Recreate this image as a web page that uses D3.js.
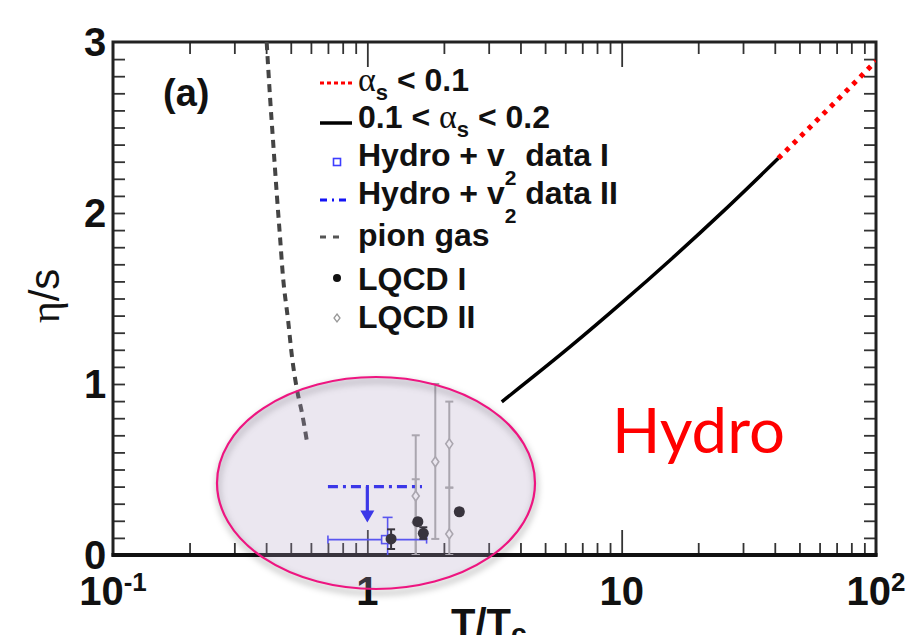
<!DOCTYPE html>
<html>
<head>
<meta charset="utf-8">
<script src="https://cdn.jsdelivr.net/npm/d3@7"></script>
<style>
  html, body { margin: 0; padding: 0; background: #fff; }
  svg { display: block; }
</style>
</head>
<body>
<script>
// ---- data: shear viscosity to entropy ratio vs. T/Tc ----
const xDomain = [0.1, 100];
const yDomain = [0, 3];
const xMajorTicks = [0.1, 1, 10, 100];
const xTickBase = ["10", "1", "10", "10"];
const xTickExp = ["-1", "", "", "2"];
const yMajorTicks = [0, 1, 2, 3];
const yTickLabels = ["0", "1", "2", "3"];

// pion gas (dashed)
const pionT   = [0.402, 0.4144, 0.4257, 0.4414, 0.4536, 0.4661, 0.4879, 0.5057, 0.5292, 0.5536, 0.5793];
const pionEta = [3.0, 2.678, 2.427, 2.094, 1.860, 1.626, 1.374, 1.158, 0.965, 0.830, 0.661];

// pQCD, 0.1 < alpha_s < 0.2 (solid)
const qcdMidT   = [3.378, 6.31, 10.0, 15.85, 25.12, 41.3];
const qcdMidEta = [0.896, 1.221, 1.474, 1.737, 2.011, 2.320];

// pQCD, alpha_s < 0.1 (dotted)
const qcdLowT   = [41.3, 56.23, 74.99, 100];
const qcdLowEta = [2.320, 2.516, 2.701, 2.889];

// Hydro + v2 data I (point with x/y errors)
const hydroIT = [1.18];
const hydroIEta = [0.09];
const hydroITLo = [0.70], hydroITHi = [1.71];
const hydroIEtaLo = [0.0], hydroIEtaHi = [0.22];

// Hydro + v2 data II (upper bound band with arrow)
const hydroIITRange = [0.70, 1.64];
const hydroIIEta = 0.40;
const hydroIIArrowT = 1.0;
const hydroIIArrowTo = 0.19;

// LQCD I
const lqcdIT   = [1.24, 1.58, 1.66, 2.30];
const lqcdIEta = [0.094, 0.195, 0.127, 0.253];
const lqcdILo  = [0.035, 0.178, 0.094, 0.236];
const lqcdIHi  = [0.150, 0.212, 0.162, 0.270];

// LQCD II
const lqcdIIT   = [1.55, 1.55, 1.85, 2.10, 2.10];
const lqcdIIEta = [0.345, 0.19, 0.545, 0.65, 0.123];
const lqcdIILo  = [0.0, 0.0, 0.094, 0.394, 0.0];
const lqcdIIHi  = [0.70, 0.443, 1.0, 0.897, 0.394];

// legend entries
const legendLabels = ["as<0.1", "0.1<as<0.2", "hydroI", "hydroII", "pion gas", "LQCD I", "LQCD II"];

// ---- layout ----
const W = 906, H = 635;
const svg = d3.select("body").append("svg").attr("width", W).attr("height", H);
svg.append("rect").attr("width", W).attr("height", H).attr("fill", "#fff");

const x = d3.scaleLog().domain(xDomain).range([113, 876]);
const y = d3.scaleLinear().domain(yDomain).range([555, 42]);

const SANS = "'Liberation Sans', Arial, Helvetica, sans-serif";
const SERIF = "'Liberation Serif', 'Times New Roman', serif";

const defs = svg.append("defs");
defs.append("clipPath").attr("id", "plotClip")
  .append("rect")
  .attr("x", x(xDomain[0])).attr("y", y(yDomain[1]))
  .attr("width", x(xDomain[1]) - x(xDomain[0]))
  .attr("height", y(yDomain[0]) - y(yDomain[1]));
defs.append("filter").attr("id", "soft").attr("x", "-20%").attr("y", "-20%").attr("width", "140%").attr("height", "140%")
  .append("feGaussianBlur").attr("stdDeviation", 3);

// ---- ticks (all pointing inward) ----
const xMinor = [];
[0.1, 1, 10].forEach(d => { for (let k = 2; k <= 9; k++) xMinor.push(+(d * k).toPrecision(3)); });
const yMinor = d3.range(1, 30).map(i => i / 10).filter(v => Math.abs(v - Math.round(v)) > 1e-6);

function tickAxis(axisFn, scale, values, size, tx, ty) {
  svg.append("g").attr("transform", `translate(${tx},${ty})`)
    .call(axisFn(scale).tickValues(values).tickSize(size).tickFormat(""))
    .call(g => g.select(".domain").remove())
    .call(g => g.selectAll("line").attr("stroke", "#333").attr("stroke-width", 1.8));
}
const x0 = x(xDomain[0]), x1 = x(xDomain[1]), y0 = y(yDomain[0]), y1 = y(yDomain[1]);
tickAxis(d3.axisBottom, x, xMinor, -12, 0, y0);
tickAxis(d3.axisBottom, x, [1, 10], -25, 0, y0);
tickAxis(d3.axisTop, x, xMinor, -12, 0, y1);
tickAxis(d3.axisTop, x, [1, 10], -25, 0, y1);
tickAxis(d3.axisLeft, y, yMinor.concat([1, 2]), -12, x0, 0);
tickAxis(d3.axisRight, y, yMinor.concat([1, 2]), -12, x1, 0);

// frame
svg.append("rect").attr("x", x0).attr("y", y1).attr("width", x1 - x0).attr("height", y0 - y1)
  .attr("fill", "none").attr("stroke", "#222").attr("stroke-width", 3);
svg.append("line").attr("x1", x0 - 1.5).attr("x2", x1 + 1.5).attr("y1", y0).attr("y2", y0)
  .attr("stroke", "#111").attr("stroke-width", 4);

// tick labels
const yLab = svg.append("g").attr("font-family", SANS).attr("font-weight", "bold").attr("font-size", 40).attr("fill", "#111");
yMajorTicks.forEach((v, i) => {
  yLab.append("text").attr("x", 95).attr("y", y(v) + 14).attr("text-anchor", "middle").text(yTickLabels[i]);
});
const xLab = svg.append("g").attr("font-family", SANS).attr("font-weight", "bold").attr("font-size", 40).attr("fill", "#111");
xMajorTicks.forEach((v, i) => {
  const t = xLab.append("text").attr("x", x(v)).attr("y", 605).attr("text-anchor", "middle");
  t.append("tspan").text(xTickBase[i]);
  if (xTickExp[i]) t.append("tspan").attr("font-size", 26).attr("dy", -14).text(xTickExp[i]);
});

// axis titles
const xt = svg.append("text").attr("x", 451).attr("y", 637).attr("font-family", SANS)
  .attr("font-weight", "bold").attr("font-size", 40).attr("fill", "#111");
xt.append("tspan").text("T/T");
xt.append("tspan").attr("font-size", 28).attr("dy", 6).text("c");

const yt = svg.append("text").attr("transform", "translate(59,296) rotate(-90)")
  .attr("text-anchor", "middle").attr("font-size", 42).attr("fill", "#111");
yt.append("tspan").attr("font-family", SERIF).text("η");
yt.append("tspan").attr("font-family", SANS).text("/s");

// panel label
svg.append("text").attr("x", 163).attr("y", 106).attr("font-family", SANS).attr("font-weight", "bold")
  .attr("font-size", 38).attr("fill", "#111").text("(a)");

// ---- curves ----
const plot = svg.append("g").attr("clip-path", "url(#plotClip)");
const lineGen = d3.line().x(d => x(d[0])).y(d => y(d[1])).curve(d3.curveMonotoneX);

plot.append("path").datum(d3.zip(pionT, pionEta)).attr("d", lineGen)
  .attr("fill", "none").attr("stroke", "#444").attr("stroke-width", 4).attr("stroke-dasharray", "8,6");
plot.append("path").datum(d3.zip(qcdMidT, qcdMidEta)).attr("d", lineGen)
  .attr("fill", "none").attr("stroke", "#000").attr("stroke-width", 3.5);
plot.append("path").datum(d3.zip(qcdLowT, qcdLowEta)).attr("d", lineGen)
  .attr("fill", "none").attr("stroke", "#ff0000").attr("stroke-width", 5).attr("stroke-dasharray", "4.5,6");

// ---- LQCD II (gray open diamonds) ----
const gray = "#a8a8a8";
const lq2 = plot.append("g");
lqcdIIT.forEach((t, i) => {
  const cx = x(t);
  lq2.append("line").attr("x1", cx).attr("x2", cx).attr("y1", y(lqcdIILo[i])).attr("y2", y(lqcdIIHi[i]))
    .attr("stroke", gray).attr("stroke-width", 2);
  [lqcdIILo[i], lqcdIIHi[i]].forEach(v => {
    lq2.append("line").attr("x1", cx - 4).attr("x2", cx + 4).attr("y1", y(v)).attr("y2", y(v))
      .attr("stroke", gray).attr("stroke-width", 2);
  });
});
lqcdIIT.forEach((t, i) => {
  const cx = x(t), cy = y(lqcdIIEta[i]);
  lq2.append("path").attr("d", `M${cx},${cy - 5}L${cx + 3.5},${cy}L${cx},${cy + 5}L${cx - 3.5},${cy}Z`)
    .attr("fill", "#fff").attr("stroke", gray).attr("stroke-width", 1.6);
});

// ---- Hydro + v2 data II: band with arrow ----
const blue = "#1414f5";
plot.append("line").attr("x1", x(hydroIITRange[0])).attr("x2", x(hydroIITRange[1]))
  .attr("y1", y(hydroIIEta)).attr("y2", y(hydroIIEta))
  .attr("stroke", blue).attr("stroke-width", 3.2).attr("stroke-dasharray", "10,5,3,5");
{
  const ax = x(hydroIIArrowT), tip = y(hydroIIArrowTo);
  plot.append("line").attr("x1", ax).attr("x2", ax).attr("y1", y(hydroIIEta)).attr("y2", tip - 10)
    .attr("stroke", blue).attr("stroke-width", 3.2);
  plot.append("path").attr("d", `M${ax - 7},${tip - 12}L${ax + 7},${tip - 12}L${ax},${tip}Z`).attr("fill", blue);
}

// ---- Hydro + v2 data I: open square with errors ----
const hb = "#3d3dff";
hydroIT.forEach((t, i) => {
  const cx = x(t), cy = y(hydroIEta[i]);
  const g = plot.append("g").attr("stroke", hb).attr("stroke-width", 1.6).attr("fill", "none");
  g.append("line").attr("x1", x(hydroITLo[i])).attr("x2", x(hydroITHi[i])).attr("y1", cy).attr("y2", cy);
  [hydroITLo[i], hydroITHi[i]].forEach(v => g.append("line").attr("x1", x(v)).attr("x2", x(v)).attr("y1", cy - 4).attr("y2", cy + 4));
  g.append("line").attr("x1", cx + 2).attr("x2", cx + 2).attr("y1", y(hydroIEtaLo[i])).attr("y2", y(hydroIEtaHi[i]));
  g.append("line").attr("x1", cx - 3).attr("x2", cx + 7).attr("y1", y(hydroIEtaHi[i])).attr("y2", y(hydroIEtaHi[i]));
  g.append("rect").attr("x", cx - 4).attr("y", cy - 4).attr("width", 8).attr("height", 8).attr("fill", "#fff");
});

// ---- LQCD I (black dots) ----
const lq1 = plot.append("g");
lqcdIT.forEach((t, i) => {
  const cx = x(t);
  lq1.append("line").attr("x1", cx).attr("x2", cx).attr("y1", y(lqcdILo[i])).attr("y2", y(lqcdIHi[i]))
    .attr("stroke", "#111").attr("stroke-width", 2);
  [lqcdILo[i], lqcdIHi[i]].forEach(v => lq1.append("line").attr("x1", cx - 4).attr("x2", cx + 4)
    .attr("y1", y(v)).attr("y2", y(v)).attr("stroke", "#111").attr("stroke-width", 2));
  lq1.append("circle").attr("cx", cx).attr("cy", y(lqcdIEta[i])).attr("r", 5.5).attr("fill", "#111");
});

// ---- legend ----
const legX = 358;
const legY = [91, 128, 166, 204, 246, 290, 328];
const leg = svg.append("g").attr("font-family", SANS).attr("font-weight", "bold").attr("font-size", 32).attr("fill", "#111");

// symbols
leg.append("line").attr("x1", 320).attr("x2", 352).attr("y1", legY[0] - 8).attr("y2", legY[0] - 8)
  .attr("stroke", "#ff0000").attr("stroke-width", 3).attr("stroke-dasharray", "4,3");
leg.append("line").attr("x1", 320).attr("x2", 352).attr("y1", legY[1] - 5).attr("y2", legY[1] - 5)
  .attr("stroke", "#000").attr("stroke-width", 3.5);
leg.append("rect").attr("x", 333.5).attr("y", legY[2] - 7.5).attr("width", 7).attr("height", 7)
  .attr("fill", "none").attr("stroke", hb).attr("stroke-width", 1.6);
leg.append("line").attr("x1", 320).attr("x2", 350).attr("y1", legY[3] - 4).attr("y2", legY[3] - 4)
  .attr("stroke", blue).attr("stroke-width", 3).attr("stroke-dasharray", "7,5,2,5");
leg.append("line").attr("x1", 320).attr("x2", 346).attr("y1", legY[4] - 9).attr("y2", legY[4] - 9)
  .attr("stroke", "#555").attr("stroke-width", 3).attr("stroke-dasharray", "6,7");
leg.append("circle").attr("cx", 337).attr("cy", legY[5] - 12).attr("r", 4).attr("fill", "#111");
leg.append("path").attr("d", `M337,${legY[6] - 14}L340,${legY[6] - 10}L337,${legY[6] - 6}L334,${legY[6] - 10}Z`)
  .attr("fill", "none").attr("stroke", "#999").attr("stroke-width", 1.3);

// labels
function alpha(t) {
  t.append("tspan").attr("font-family", SERIF).attr("font-weight", "normal").attr("font-size", 34).text("α");
  t.append("tspan").attr("font-size", 22).attr("dy", 9).text("s");
}
{
  const t = leg.append("text").attr("x", legX).attr("y", legY[0]);
  alpha(t);
  t.append("tspan").attr("dy", -9).text(" < 0.1");
}
{
  const t = leg.append("text").attr("x", legX).attr("y", legY[1]);
  t.append("tspan").text("0.1 < ");
  alpha(t);
  t.append("tspan").attr("dy", -9).text(" < 0.2");
}
[["Hydro + v", " data I"], ["Hydro + v", " data II"]].forEach((p, k) => {
  const t = leg.append("text").attr("x", legX).attr("y", legY[2 + k]);
  t.append("tspan").text(p[0]);
  t.append("tspan").attr("font-size", 21).attr("dy", 19).text("2");
  t.append("tspan").attr("dy", -19).text(p[1]);
});
leg.append("text").attr("x", legX).attr("y", legY[4]).text(legendLabels[4]);
leg.append("text").attr("x", legX).attr("y", legY[5]).text(legendLabels[5]);
leg.append("text").attr("x", legX).attr("y", legY[6]).text(legendLabels[6]);

// ---- highlight ellipse over the hydro region ----
const ell = { cx: 376, cy: 483, rx: 159, ry: 106 };
svg.append("ellipse").attr("cx", ell.cx + 1).attr("cy", ell.cy + 4).attr("rx", ell.rx).attr("ry", ell.ry)
  .attr("fill", "none").attr("stroke", "#000").attr("stroke-opacity", 0.22).attr("stroke-width", 5)
  .attr("filter", "url(#soft)");
svg.append("ellipse").attr("cx", ell.cx).attr("cy", ell.cy).attr("rx", ell.rx).attr("ry", ell.ry)
  .attr("fill", "rgb(175,160,195)").attr("fill-opacity", 0.25)
  .attr("stroke", "#ee1580").attr("stroke-width", 2.2);

svg.append("text").attr("x", 612).attr("y", 453).attr("font-family", "Lato, 'Open Sans', sans-serif")
  .attr("font-size", 62).attr("fill", "#ff0000")
  .attr("textLength", 173).attr("lengthAdjust", "spacingAndGlyphs").text("Hydro");
</script>
</body>
</html>
